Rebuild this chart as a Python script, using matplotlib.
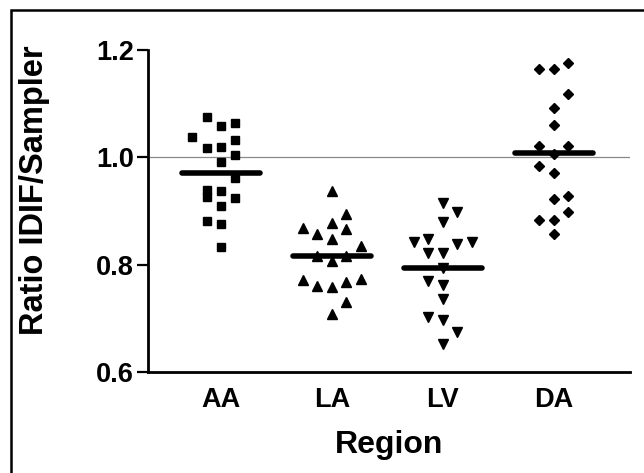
import numpy as np
import matplotlib.pyplot as plt
from matplotlib.patches import Rectangle

plt.rcParams['font.family'] = ['Liberation Sans', 'DejaVu Sans']
plt.rcParams['font.weight'] = 'bold'

regions = ['AA', 'LA', 'LV', 'DA']
markers = ['s', '^', 'v', 'D']
sizes = [6.2, 7.0, 7.0, 4.6]

aa = [1.076, 1.058, 1.064, 1.038, 1.018, 1.019, 1.032, 1.004, 0.991,
      0.962, 0.939, 0.926, 0.937, 0.925, 0.909, 0.882, 0.875, 0.833]
aa_col = [-1, 0, 1, -2, -1, 0, 1, 1, 0, 1, -1, -1, 0, 1, 0, -1, 0, 0]

la = [0.937, 0.895, 0.869, 0.878, 0.866, 0.857, 0.847, 0.835, 0.816,
      0.816, 0.807, 0.771, 0.761, 0.758, 0.767, 0.773, 0.730, 0.708]
la_col = [0, 1, -2, 0, 1, -1, 0, 2, -1, 1, 0, -2, -1, 0, 1, 2, 1, 0]

lv = [0.914, 0.898, 0.880, 0.842, 0.847, 0.838, 0.843, 0.822, 0.822,
      0.794, 0.770, 0.762, 0.736, 0.703, 0.696, 0.675, 0.653]
lv_col = [0, 1, 0, -2, -1, 1, 2, -1, 0, 0, -1, 0, 0, -1, 0, 1, 0]

da = [1.164, 1.164, 1.175, 1.118, 1.092, 1.061, 1.022, 1.021, 1.007,
      0.983, 0.970, 0.922, 0.928, 0.898, 0.884, 0.883, 0.857]
da_col = [-1, 0, 1, 1, 0, 0, -1, 1, 0, -1, 0, 0, 1, 1, -1, 0, 0]

groups = [(aa, aa_col), (la, la_col), (lv, lv_col), (da, da_col)]
step = 0.13

fig = plt.figure(figsize=(6.44, 4.73), dpi=100)
ax = fig.add_axes([0.2298, 0.2135, 0.748, 0.6808])

ax.axhline(1.0, color='#8a8a8a', lw=0.9, zorder=1)

for i, (vals, cols) in enumerate(groups):
    xs = i + step * np.array(cols)
    ax.plot(xs, vals, linestyle='none', marker=markers[i], ms=sizes[i],
            color='black', mec='black', zorder=3)
    m = np.mean(vals)
    ax.plot([i - 0.35, i + 0.35], [m, m], color='black', lw=4,
            solid_capstyle='round', zorder=4)

ax.set_xlim(-0.658, 3.685)
ax.set_ylim(0.6, 1.2)
ax.set_yticks([0.6, 0.8, 1.0, 1.2])
ax.set_yticklabels(['0.6', '0.8', '1.0', '1.2'])
ax.set_xticks(range(4))
ax.set_xticklabels(regions)

for s in ['top', 'right']:
    ax.spines[s].set_visible(False)
for s in ['left', 'bottom']:
    ax.spines[s].set_linewidth(2)

ax.tick_params(axis='y', length=8, width=1.6, pad=2, labelsize=19.5)
ax.tick_params(axis='x', length=0, pad=11, labelsize=19.5)

ax.set_xlabel('Region', fontsize=23, fontweight='bold', labelpad=12)
ax.set_ylabel('Ratio IDIF/Sampler', fontsize=23.5, fontweight='bold')
ax.yaxis.set_label_coords(-0.203, 0.565)

fig.add_artist(Rectangle((11 / 644, -0.1), 1.2, 1.1 - 10 / 473,
                         transform=fig.transFigure, fill=False,
                         lw=1.8, ec='black'))

fig.savefig('out.png', dpi=100)
